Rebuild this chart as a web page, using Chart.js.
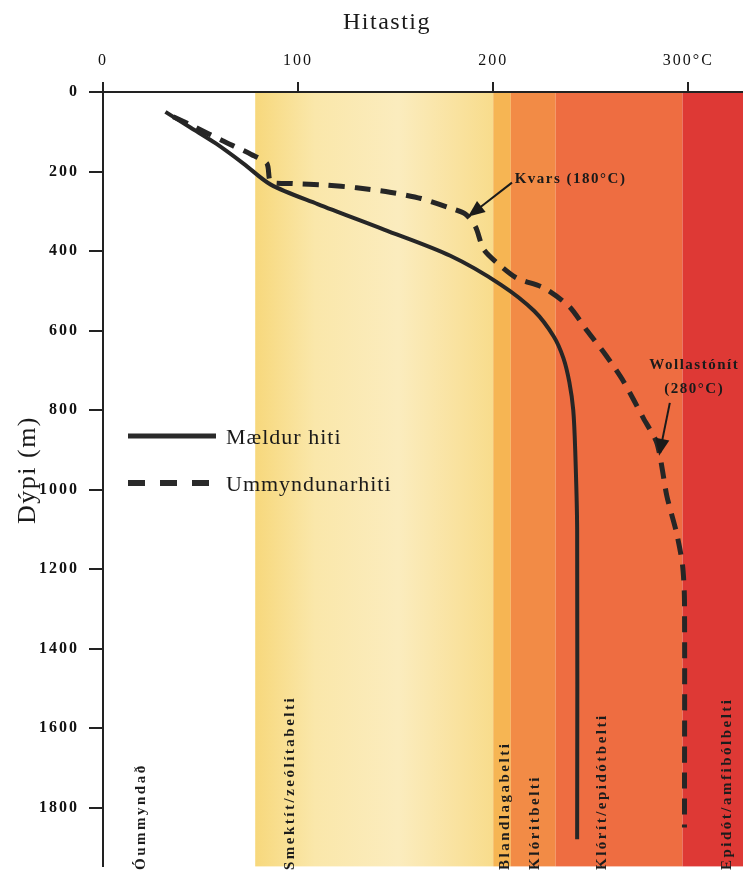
<!DOCTYPE html>
<html>
<head>
<meta charset="utf-8">
<script src="https://cdn.jsdelivr.net/npm/chart.js@4"></script>
<style>
  html, body { margin: 0; padding: 0; background: #fff; }
  #wrap { width: 743px; height: 886px; position: relative; }
</style>
</head>
<body>
<div id="wrap"><canvas id="chart"></canvas></div>
<script>
// temperature (°C) vs depth (m)
const measuredTemp  = [32, 45, 58, 72, 86, 110, 144, 178, 204, 221, 231, 236, 239, 241, 242, 243, 243];
const measuredDepth = [50, 90, 130, 180, 233, 282, 346, 412, 485, 551, 615, 670, 730, 800, 900, 1100, 1880];

const alterTemp  = [36, 47, 61, 76, 84, 86, 97, 114, 130, 147, 163, 178, 186, 191, 195, 202, 212, 226, 239, 248, 258, 267, 277, 284, 289, 294, 297, 298, 298];
const alterDepth = [62, 88, 122, 157, 180, 226, 230, 234, 241, 252, 268, 292, 308, 340, 395, 430, 468, 493, 540, 600, 664, 730, 821, 885, 1017, 1110, 1190, 1277, 1850];

const seriesNames = ['Mældur hiti', 'Ummyndunarhiti'];

// alteration zones (°C)
const zoneNames = ['Óummyndað', 'Smektít/zeólítabelti', 'Blandlagabelti', 'Klóritbelti', 'Klórít/epidótbelti', 'Epidót/amfibólbelti'];
const zoneFrom  = [0, 78, 200, 209, 232, 297];
const zoneTo    = [78, 200, 209, 232, 297, 330];

const xTickLabels = { 0: '0', 100: '100', 200: '200', 300: '300°C' };

// layout / style
const zoneColors = [null, 'yellow', '#F6B553', '#F28B46', '#EE6D41', '#DE3935'];
const zoneLabelAt = [19.5, 96, 206, 221.5, 256, 320];
const SERIF = '"Liberation Serif", "Times New Roman", serif';

const notes = [
  { lines: [['Kvars (180°C)', 211, 218]], align: 'left', from: [209.6, 228], tip: [187, 314] },
  { lines: [['Wollastónít', 303, 687], ['(280°C)', 303, 748]], align: 'center', from: [290.5, 782], tip: [285, 915] }
];

function arrow(ctx, x0, y0, x1, y1) {
  const a = Math.atan2(y1 - y0, x1 - x0), L = 17, W = 7;
  ctx.beginPath();
  ctx.moveTo(x0, y0);
  ctx.lineTo(x1 - Math.cos(a) * L * 0.8, y1 - Math.sin(a) * L * 0.8);
  ctx.stroke();
  ctx.beginPath();
  ctx.moveTo(x1, y1);
  ctx.lineTo(x1 - L * Math.cos(a) + W * Math.sin(a), y1 - L * Math.sin(a) - W * Math.cos(a));
  ctx.lineTo(x1 - L * Math.cos(a) - W * Math.sin(a), y1 - L * Math.sin(a) + W * Math.cos(a));
  ctx.closePath();
  ctx.fill();
}

const zonesPlugin = {
  id: 'zones',
  beforeDraw(chart) {
    const { ctx, chartArea: a, scales: { x } } = chart;
    ctx.save();
    zoneFrom.forEach((f, i) => {
      if (!zoneColors[i]) return;
      const x0 = x.getPixelForValue(f);
      const x1 = Math.min(x.getPixelForValue(zoneTo[i]), a.right);
      if (zoneColors[i] === 'yellow') {
        const g = ctx.createLinearGradient(x0, 0, x1, 0);
        g.addColorStop(0, '#F7D87C');
        g.addColorStop(0.25, '#FAE7AA');
        g.addColorStop(0.6, '#FBECBE');
        g.addColorStop(1, '#F8DC8C');
        ctx.fillStyle = g;
      } else {
        ctx.fillStyle = zoneColors[i];
      }
      ctx.fillRect(x0, a.top, x1 - x0, a.bottom - a.top);
    });
    // zone names, rotated
    ctx.fillStyle = '#1c1c1c';
    ctx.font = 'bold 15px ' + SERIF;
    ctx.letterSpacing = '2.5px';
    ctx.textAlign = 'left';
    ctx.textBaseline = 'middle';
    zoneNames.forEach((n, i) => {
      ctx.save();
      ctx.translate(x.getPixelForValue(zoneLabelAt[i]), 870);
      ctx.rotate(-Math.PI / 2);
      ctx.fillText(n, 0, 0);
      ctx.restore();
    });
    ctx.restore();
    ctx.letterSpacing = '2px';
  },
  afterDraw(chart) {
    const { ctx, scales: { x, y } } = chart;
    ctx.save();
    ctx.fillStyle = '#1a1a1a';
    ctx.strokeStyle = '#1a1a1a';

    // axis titles
    ctx.textBaseline = 'middle';
    ctx.textAlign = 'center';
    ctx.font = '24px ' + SERIF;
    ctx.letterSpacing = '1.5px';
    ctx.fillText('Hitastig', 387, 23);
    ctx.save();
    ctx.translate(28, 470);
    ctx.rotate(-Math.PI / 2);
    ctx.font = '26px ' + SERIF;
    ctx.fillText('Dýpi (m)', 0, 0);
    ctx.restore();

    // annotations
    ctx.font = 'bold 15px ' + SERIF;
    ctx.letterSpacing = '1.5px';
    notes.forEach(n => {
      ctx.textAlign = n.align;
      n.lines.forEach(([t, tx, dy]) => ctx.fillText(t, x.getPixelForValue(tx), y.getPixelForValue(dy)));
      ctx.lineWidth = 2;
      arrow(ctx, x.getPixelForValue(n.from[0]), y.getPixelForValue(n.from[1]),
                 x.getPixelForValue(n.tip[0]), y.getPixelForValue(n.tip[1]));
    });

    // legend
    const ds = chart.data.datasets;
    ctx.strokeStyle = '#2a2a2a';
    ctx.lineCap = 'butt';
    ctx.lineWidth = 5;
    ctx.beginPath(); ctx.moveTo(128, 436); ctx.lineTo(216, 436); ctx.stroke();
    ctx.setLineDash([17, 15]);
    ctx.lineWidth = 6;
    ctx.beginPath(); ctx.moveTo(128, 483); ctx.lineTo(210, 483); ctx.stroke();
    ctx.setLineDash([]);
    ctx.font = '22px ' + SERIF;
    ctx.letterSpacing = '1px';
    ctx.textAlign = 'left';
    ctx.fillText(ds[0].label, 226, 438);
    ctx.fillText(ds[1].label, 226, 485);
    ctx.restore();
  }
};

new Chart(document.getElementById('chart'), {
  type: 'line',
  data: {
    datasets: [
      {
        label: seriesNames[0],
        data: measuredTemp.map((t, i) => ({ x: t, y: measuredDepth[i] })),
        borderColor: '#262626',
        borderWidth: 4,
        tension: 0.3,
        pointRadius: 0,
        fill: false
      },
      {
        label: seriesNames[1],
        data: alterTemp.map((t, i) => ({ x: t, y: alterDepth[i] })),
        borderColor: '#262626',
        borderWidth: 5,
        borderDash: [16, 10],
        tension: 0.25,
        pointRadius: 0,
        fill: false
      }
    ]
  },
  options: {
    responsive: true,
    maintainAspectRatio: false,
    animation: false,
    devicePixelRatio: 1,
    layout: { padding: 0 },
    plugins: { legend: { display: false }, tooltip: { enabled: false } },
    scales: {
      x: {
        type: 'linear',
        position: 'top',
        min: 0,
        max: 328,
        afterFit: s => { s.height = 92; },
        ticks: {
          stepSize: 100,
          includeBounds: false,
          maxRotation: 0,
          padding: 12,
          color: '#111',
          font: { family: SERIF, size: 16 },
          callback: v => xTickLabels[v] ?? ''
        },
        grid: { drawOnChartArea: false, tickLength: 10, color: '#222', lineWidth: 2 },
        border: { color: '#222', width: 2 }
      },
      y: {
        type: 'linear',
        reverse: true,
        min: 0,
        max: 1948,
        afterFit: s => { s.width = 103; },
        ticks: {
          stepSize: 200,
          includeBounds: false,
          padding: 10,
          color: '#111',
          font: { family: SERIF, size: 16, weight: 'bold' },
          callback: v => String(v)
        },
        grid: { drawOnChartArea: false, tickLength: 14, color: '#222', lineWidth: 2 },
        border: { color: '#222', width: 2 }
      }
    }
  },
  plugins: [zonesPlugin]
});
</script>
</body>
</html>
